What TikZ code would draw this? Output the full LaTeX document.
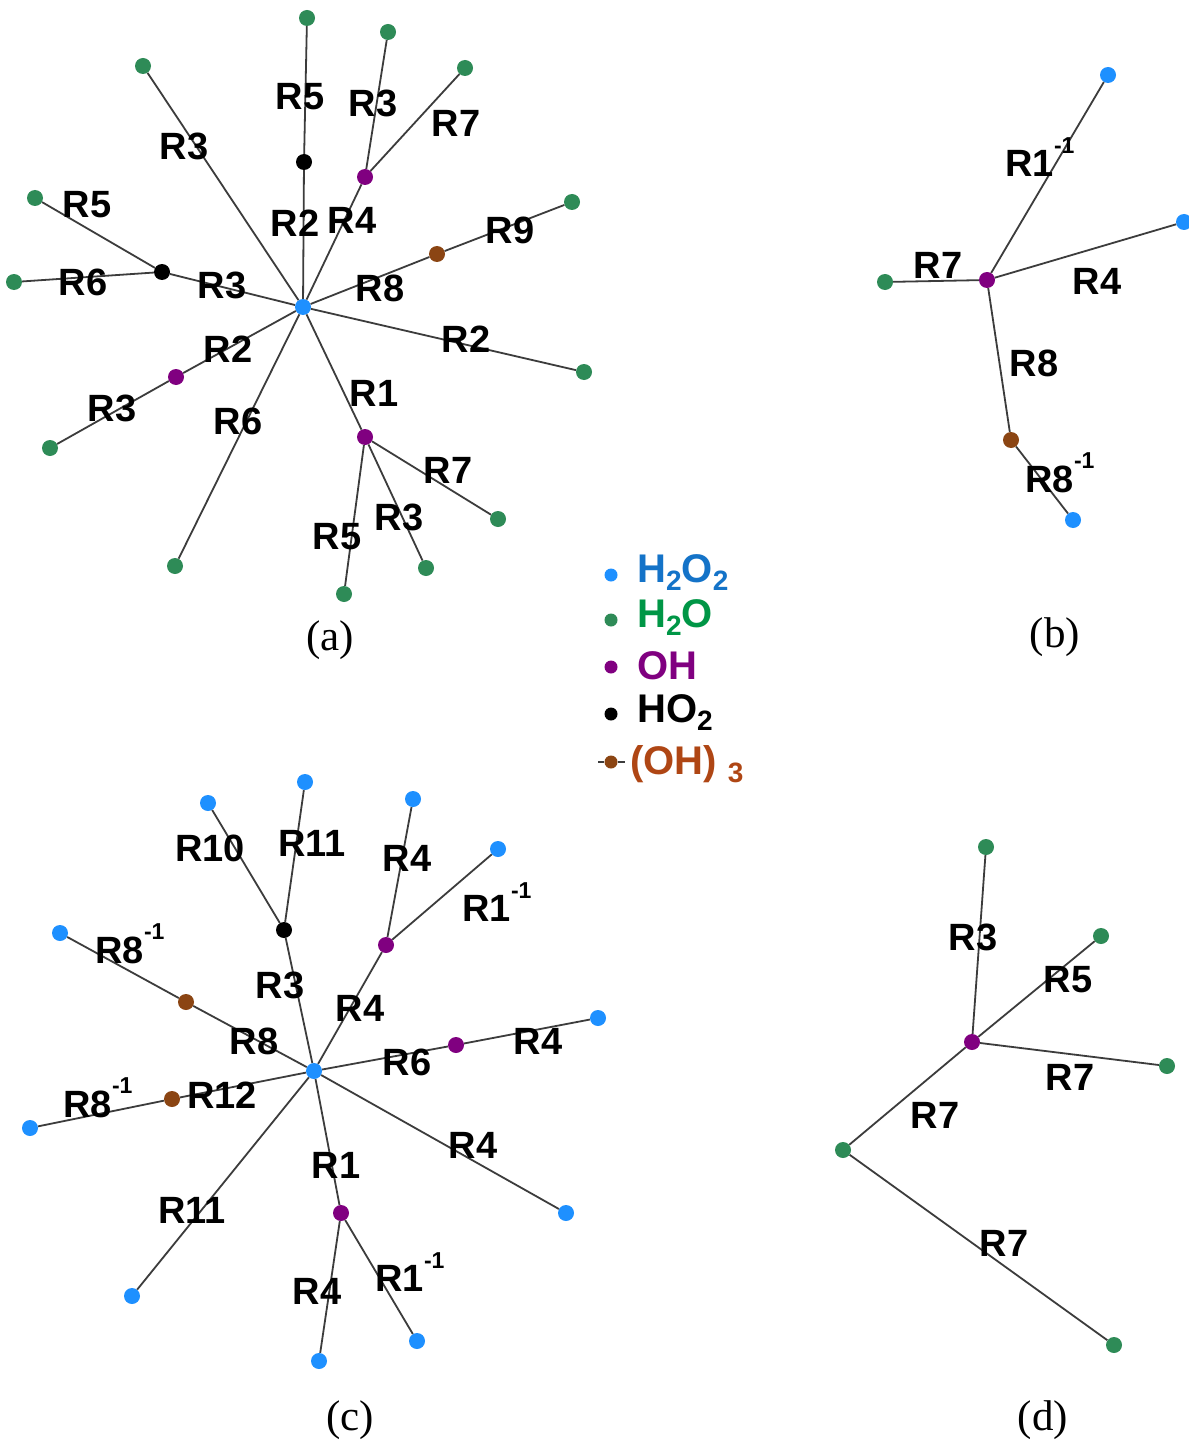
\documentclass[tikz,border=0pt]{standalone}
\usepackage{fontspec}
\setmainfont{Liberation Serif}
\setsansfont{Liberation Sans}
\definecolor{cblue}{RGB}{30,144,255}
\definecolor{cgreen}{RGB}{46,139,87}
\definecolor{cpurple}{RGB}{128,0,128}
\definecolor{cbrown}{RGB}{139,69,19}
\definecolor{cline}{RGB}{60,60,60}
\definecolor{tblue}{RGB}{20,115,200}
\definecolor{tgreen}{RGB}{0,150,70}
\definecolor{tbrown}{RGB}{175,70,20}
\newcommand{\inv}{\raisebox{0.62em}{\fontsize{23}{23}\selectfont -1}}
\newcommand{\subs}[1]{\raisebox{-0.2em}{\fontsize{28}{28}\selectfont #1}}
\begin{document}
\begin{tikzpicture}[x=1pt,y=-1pt,
  dot/.style={circle,inner sep=0pt,minimum size=16pt},
  bl/.style={dot,fill=cblue},
  gr/.style={dot,fill=cgreen},
  pu/.style={dot,fill=cpurple},
  bk/.style={dot,fill=black},
  br/.style={dot,fill=cbrown},
  ln/.style={draw=cline,line width=1.8pt},
  lab/.style={font=\sffamily\bfseries\fontsize{38}{40}\selectfont,inner sep=0pt},
  leg/.style={font=\sffamily\bfseries\fontsize{40}{44}\selectfont,inner sep=0pt,anchor=west},
  captxt/.style={font=\fontsize{43}{46}\selectfont,inner sep=0pt}]
\useasboundingbox (0,0) rectangle (1188,1447);
\fill[white] (0,0) rectangle (1188,1447);

% ---------------- panel (a)
\node[bl] (a0) at (303,307) {};
\node[bk] (a1) at (304,162) {};
\node[gr] (a2) at (307,18) {};
\node[pu] (a3) at (365,177) {};
\node[gr] (a4) at (388,32) {};
\node[gr] (a5) at (465,68) {};
\node[gr] (a6) at (143,66) {};
\node[bk] (a7) at (162,272) {};
\node[gr] (a8) at (35,198) {};
\node[gr] (a9) at (14,282) {};
\node[br] (a10) at (437,254) {};
\node[gr] (a11) at (572,202) {};
\node[gr] (a12) at (584,372) {};
\node[pu] (a13) at (176,377) {};
\node[gr] (a14) at (50,448) {};
\node[gr] (a15) at (175,566) {};
\node[pu] (a16) at (365,437) {};
\node[gr] (a17) at (498,519) {};
\node[gr] (a18) at (426,568) {};
\node[gr] (a19) at (344,594) {};
\path[ln] (a0) -- (a1) (a1) -- (a2) (a0) -- (a3) (a3) -- (a4) (a3) -- (a5)
  (a0) -- (a6) (a0) -- (a7) (a7) -- (a8) (a7) -- (a9) (a0) -- (a10) (a10) -- (a11)
  (a0) -- (a12) (a0) -- (a13) (a13) -- (a14) (a0) -- (a15) (a0) -- (a16)
  (a16) -- (a17) (a16) -- (a18) (a16) -- (a19);
\node[lab] (la1) at (300,97) {R5};
\node[lab] (la2) at (295,223) {R2};
\node[lab] (la3) at (373,103) {R3};
\node[lab] (la4) at (352,220) {R4};
\node[lab] (la5) at (456,123) {R7};
\node[lab] (la6) at (184,146) {R3};
\node[lab] (la7) at (222,285) {R3};
\node[lab] (la8) at (87,205) {R5};
\node[lab] (la9) at (83,282) {R6};
\node[lab] (la10) at (380,288) {R8};
\node[lab] (la11) at (510,230) {R9};
\node[lab] (la12) at (466,339) {R2};
\node[lab] (la13) at (228,349) {R2};
\node[lab] (la14) at (112,408) {R3};
\node[lab] (la15) at (238,421) {R6};
\node[lab] (la16) at (374,393) {R1};
\node[lab] (la17) at (448,470) {R7};
\node[lab] (la18) at (399,517) {R3};
\node[lab] (la19) at (337,537) {R5};
\node[captxt] (capa) at (330,640) {(a)};

% ---------------- panel (b)
\node[pu] (b0) at (987,280) {};
\node[bl] (b1) at (1108,75) {};
\node[bl] (b2) at (1184,222) {};
\node[gr] (b3) at (885,282) {};
\node[br] (b4) at (1011,440) {};
\node[bl] (b5) at (1073,520) {};
\path[ln] (b0) -- (b1) (b0) -- (b2) (b0) -- (b3) (b0) -- (b4) (b4) -- (b5);
\node[lab] (lb1) at (1040,157) {R1\inv};
\node[lab] (lb2) at (1097,281) {R4};
\node[lab] (lb3) at (938,265) {R7};
\node[lab] (lb4) at (1034,363) {R8};
\node[lab] (lb5) at (1060,473) {R8\inv};
\node[captxt] (capb) at (1055,637) {(b)};

% ---------------- legend
\node[bl,minimum size=13pt] (g1) at (611,575) {};
\node[gr,minimum size=13pt] (g2) at (611,620) {};
\node[pu,minimum size=13pt] (g3) at (611,667) {};
\node[bk,minimum size=13pt] (g4) at (611,714) {};
\node[br,minimum size=13pt] (g5) at (611,762) {};
\coordinate (g5l) at (598,762);
\coordinate (g5r) at (625,762);
\draw[ln,line width=1.2pt] (g5l) -- (g5);
\draw[ln,line width=1.2pt] (g5) -- (g5r);
\node[leg,text=tblue] (lg1) at (637,573) {H\subs{2}O\subs{2}};
\node[leg,text=tgreen] (lg2) at (637,618) {H\subs{2}O};
\node[leg,text=cpurple] (lg3) at (637,666) {OH};
\node[leg,text=black] (lg4) at (637,713) {HO\subs{2}};
\node[leg,text=tbrown] (lg5) at (630,764) {(OH) \subs{3}};

% ---------------- panel (c)
\node[bl] (c0) at (314,1071) {};
\node[bk] (c1) at (284,930) {};
\node[bl] (c2) at (208,803) {};
\node[bl] (c3) at (305,782) {};
\node[pu] (c4) at (386,945) {};
\node[bl] (c5) at (413,799) {};
\node[bl] (c6) at (498,849) {};
\node[br] (c7) at (186,1002) {};
\node[bl] (c8) at (60,933) {};
\node[pu] (c9) at (456,1045) {};
\node[bl] (c10) at (598,1018) {};
\node[br] (c11) at (172,1099) {};
\node[bl] (c12) at (30,1128) {};
\node[bl] (c13) at (566,1213) {};
\node[bl] (c14) at (132,1296) {};
\node[pu] (c15) at (341,1213) {};
\node[bl] (c16) at (319,1361) {};
\node[bl] (c17) at (417,1341) {};
\path[ln] (c0) -- (c1) (c1) -- (c2) (c1) -- (c3) (c0) -- (c4) (c4) -- (c5) (c4) -- (c6)
  (c0) -- (c7) (c7) -- (c8) (c0) -- (c9) (c9) -- (c10) (c0) -- (c11) (c11) -- (c12)
  (c0) -- (c13) (c0) -- (c14) (c0) -- (c15) (c15) -- (c16) (c15) -- (c17);
\node[lab] (lc1) at (280,985) {R3};
\node[lab] (lc2) at (210,848) {R10};
\node[lab] (lc3) at (312,843) {R11};
\node[lab] (lc4) at (360,1008) {R4};
\node[lab] (lc5) at (407,858) {R4};
\node[lab] (lc6) at (497,902) {R1\inv};
\node[lab] (lc7) at (254,1041) {R8};
\node[lab] (lc8) at (130,944) {R8\inv};
\node[lab] (lc9) at (407,1062) {R6};
\node[lab] (lc10) at (538,1041) {R4};
\node[lab] (lc11) at (222,1095) {R12};
\node[lab] (lc12) at (98,1098) {R8\inv};
\node[lab] (lc13) at (473,1145) {R4};
\node[lab] (lc14) at (192,1210) {R11};
\node[lab] (lc15) at (336,1165) {R1};
\node[lab] (lc16) at (317,1291) {R4};
\node[lab] (lc17) at (410,1272) {R1\inv};
\node[captxt] (capc) at (350,1420) {(c)};

% ---------------- panel (d)
\node[pu] (d0) at (972,1042) {};
\node[gr] (d1) at (986,847) {};
\node[gr] (d2) at (1101,936) {};
\node[gr] (d3) at (1167,1066) {};
\node[gr] (d4) at (843,1150) {};
\node[gr] (d5) at (1114,1345) {};
\path[ln] (d0) -- (d1) (d0) -- (d2) (d0) -- (d3) (d0) -- (d4) (d4) -- (d5);
\node[lab] (ld1) at (973,937) {R3};
\node[lab] (ld2) at (1068,980) {R5};
\node[lab] (ld3) at (1070,1077) {R7};
\node[lab] (ld4) at (935,1115) {R7};
\node[lab] (ld5) at (1004,1243) {R7};
\node[captxt] (capd) at (1043,1420) {(d)};
\end{tikzpicture}
\end{document}
